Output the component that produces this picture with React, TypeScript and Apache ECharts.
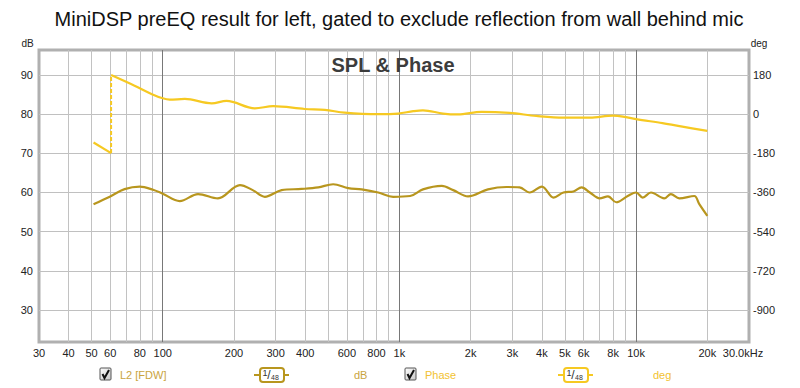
import React, { useEffect, useRef } from 'react';
import * as echarts from 'echarts';

const TITLE = 'MiniDSP preEQ result for left, gated to exclude reflection from wall behind mic';
const SUBTITLE = 'SPL & Phase';

// SPL (L2 [FDW]) in dB
const SPL_FREQ = [51, 60, 69, 80, 91, 100, 118, 141, 171, 212, 240, 270, 318, 386, 454, 525, 608, 693, 814, 941, 1110, 1257, 1510, 1688, 1950, 2366, 2834, 3220, 3550, 4000, 4480, 4934, 5435, 5889, 6380, 7016, 7607, 8243, 9219, 10000, 10660, 11560, 13150, 14030, 15230, 17620, 18500, 20000];
const SPL_DB = [57.0, 59.0, 60.85, 61.5, 60.7, 59.7, 57.8, 59.6, 58.5, 61.9, 60.6, 58.9, 60.6, 60.9, 61.3, 62.1, 61.1, 60.8, 60.0, 58.9, 59.1, 60.8, 61.7, 60.6, 59.0, 60.8, 61.4, 61.3, 60.0, 61.5, 58.7, 60.0, 60.25, 61.3, 60.0, 58.5, 59.0, 57.5, 59.1, 60.0, 58.7, 60.0, 58.5, 59.6, 58.5, 59.1, 57.0, 54.0];

// Phase in degrees, before and after the wrap near 60 Hz
const PHASE_FREQ_A = [51, 60.5];
const PHASE_DEG_A = [-130, -179];
const PHASE_FREQ_B = [60.5, 76, 90, 100, 107, 124, 161, 186, 245, 293, 398, 484, 587, 814, 987, 1144, 1257, 1528, 1765, 2224, 2920, 3789, 4934, 6380, 7980, 8800, 10000, 12930, 15690, 20000];
const PHASE_DEG_B = [180, 131, 92, 73, 67, 70, 50, 61, 27, 37, 24, 20, 7, 0, 3, 14, 18, 3, -1, 11, 6, -8, -16, -16, -7, -11, -23, -41, -57, -77];

// Axis ticks
const X_GRID_TICKS = [40, 50, 60, 70, 80, 90, 100, 200, 300, 400, 500, 600, 700, 800, 900, 1000, 2000, 3000, 4000, 5000, 6000, 7000, 8000, 9000, 10000, 20000];
const X_LABELS = [30, 40, 50, 60, 80, 100, 200, 300, 400, 600, 800, 1000, 2000, 3000, 4000, 5000, 6000, 8000, 10000, 20000, 30000];
const DB_TICKS = [30, 40, 50, 60, 70, 80, 90];
const DEG_TICKS = [180, 0, -180, -360, -540, -720, -900];

const DB_MIN = 21.8;
const DB_MAX = 96.4;
const DEG_MIN = (DB_MIN - 80) * 18;
const DEG_MAX = (DB_MAX - 80) * 18;

const SPL_COLOR = '#b8961e';
const PHASE_COLOR = '#f6c922';
const SPL_TEXT = '#c9a43e';
const PHASE_TEXT = '#f2c230';
const FONT = '"Liberation Sans", Arial, sans-serif';

const zip = (a: number[], b: number[]) => a.map((v, i) => [v, b[i]]);

function legendItem(x: number, label: string, color: string, textColor: string, badgeX: number, unit: string, unitX: number) {
  const y = 375;
  return [
    {
      type: 'rect',
      shape: { x: x, y: y - 7, width: 11, height: 12, r: 1 },
      style: {
        fill: new echarts.graphic.LinearGradient(0, 0, 1, 1, [
          { offset: 0, color: '#ffffff' },
          { offset: 1, color: '#c8c8c8' },
        ]),
        stroke: '#555',
        lineWidth: 1,
      },
    },
    {
      type: 'polyline',
      shape: { points: [[x + 2.5, y - 1], [x + 4.5, y + 3], [x + 9, y - 5]] },
      style: { stroke: '#111', lineWidth: 2, fill: 'none' },
    },
    {
      type: 'text',
      x: x + 20,
      y: y,
      style: { text: label, font: '11px ' + FONT, fill: textColor, textVerticalAlign: 'middle' },
    },
    {
      type: 'line',
      shape: { x1: badgeX, y1: y, x2: badgeX + 35, y2: y },
      style: { stroke: color, lineWidth: 2 },
    },
    {
      type: 'rect',
      shape: { x: badgeX + 6, y: y - 7, width: 24, height: 14, r: 3 },
      style: { fill: '#fff', stroke: color, lineWidth: 2 },
    },
    {
      type: 'text',
      x: badgeX + 11,
      y: y - 2,
      style: { text: '1', font: '9px ' + FONT, fill: '#333', textAlign: 'center', textVerticalAlign: 'middle' },
    },
    {
      type: 'text',
      x: badgeX + 15,
      y: y,
      style: { text: '/', font: '12px ' + FONT, fill: '#333', textAlign: 'center', textVerticalAlign: 'middle' },
    },
    {
      type: 'text',
      x: badgeX + 21,
      y: y + 2,
      style: { text: '48', font: '7px ' + FONT, fill: '#333', textAlign: 'center', textVerticalAlign: 'middle' },
    },
    {
      type: 'text',
      x: unitX,
      y: y,
      style: { text: unit, font: '11px ' + FONT, fill: textColor, textVerticalAlign: 'middle' },
    },
  ];
}

export default function App() {
  const ref = useRef<HTMLDivElement>(null);

  useEffect(() => {
    if (!ref.current) return;
    const chart = echarts.init(ref.current, null, { renderer: 'svg' });

    const xColors = X_GRID_TICKS.map((v) => (v === 100 || v === 1000 || v === 10000 ? '#787878' : '#c2c2c2'));

    const option: any = {
      animation: false,
      backgroundColor: '#ffffff',
      grid: {
        left: 39,
        right: 51,
        top: 50,
        bottom: 46,
        show: true,
        borderColor: '#b0b0b0',
        borderWidth: 3,
        backgroundColor: '#ffffff',
      },
      xAxis: {
        type: 'log',
        logBase: 10,
        min: 30,
        max: 30000,
        axisLine: { show: false },
        axisTick: { show: false, customValues: X_GRID_TICKS },
        splitLine: { show: true, lineStyle: { color: xColors, width: 1 } },
        minorSplitLine: { show: false },
        axisLabel: {
          customValues: X_LABELS,
          margin: 5,
          fontSize: 11,
          fontFamily: FONT,
          color: '#222',
          formatter: (v: number) => {
            if (v >= 29999) return '{k|30.0kHz}';
            if (v >= 1000) return Math.round(v / 1000) + 'k';
            return String(Math.round(v));
          },
          rich: { k: { fontSize: 11, fontFamily: FONT, color: '#222', padding: [0, 12, 0, 0] } },
        },
      },
      yAxis: [
        {
          type: 'value',
          min: DB_MIN,
          max: DB_MAX,
          axisLine: { show: false },
          axisTick: { show: false, customValues: DB_TICKS },
          splitLine: { show: true, lineStyle: { color: '#c0c0c0', width: 1 } },
          axisLabel: {
            customValues: DB_TICKS,
            margin: 6,
            fontSize: 11,
            fontFamily: FONT,
            color: '#222',
          },
        },
        {
          type: 'value',
          min: DEG_MIN,
          max: DEG_MAX,
          position: 'right',
          axisLine: { show: false },
          axisTick: { show: false, customValues: DEG_TICKS },
          splitLine: { show: false },
          axisLabel: {
            customValues: DEG_TICKS,
            margin: 4,
            fontSize: 11,
            fontFamily: FONT,
            color: '#222',
          },
        },
      ],
      series: [
        {
          name: 'L2 [FDW]',
          type: 'line',
          yAxisIndex: 0,
          data: zip(SPL_FREQ, SPL_DB),
          showSymbol: false,
          smooth: 0.35,
          lineStyle: { color: SPL_COLOR, width: 2.2 },
          itemStyle: { color: SPL_COLOR },
          z: 3,
        },
        {
          name: 'Phase',
          type: 'line',
          yAxisIndex: 1,
          data: zip(PHASE_FREQ_A, PHASE_DEG_A),
          showSymbol: false,
          lineStyle: { color: PHASE_COLOR, width: 2.2 },
          itemStyle: { color: PHASE_COLOR },
          z: 3,
        },
        {
          name: 'Phase wrap',
          type: 'line',
          yAxisIndex: 1,
          data: [
            [PHASE_FREQ_A[PHASE_FREQ_A.length - 1], PHASE_DEG_A[PHASE_DEG_A.length - 1]],
            [PHASE_FREQ_B[0], PHASE_DEG_B[0]],
          ],
          showSymbol: false,
          lineStyle: { color: PHASE_COLOR, width: 2, type: [4, 2] },
          itemStyle: { color: PHASE_COLOR },
          z: 3,
        },
        {
          name: 'Phase',
          type: 'line',
          yAxisIndex: 1,
          data: zip(PHASE_FREQ_B, PHASE_DEG_B),
          showSymbol: false,
          smooth: 0.35,
          lineStyle: { color: PHASE_COLOR, width: 2.2 },
          itemStyle: { color: PHASE_COLOR },
          z: 3,
        },
      ],
      graphic: [
        {
          type: 'text',
          x: 399,
          y: 19,
          style: { text: TITLE, font: '20px ' + FONT, fill: '#111', textAlign: 'center', textVerticalAlign: 'middle' },
        },
        {
          type: 'text',
          x: 393,
          y: 65,
          z: 10,
          style: { text: SUBTITLE, font: 'bold 20px ' + FONT, fill: '#3c3c3c', textAlign: 'center', textVerticalAlign: 'middle' },
        },
        {
          type: 'text',
          x: 27.5,
          y: 43,
          style: { text: 'dB', font: '10px ' + FONT, fill: '#222', textAlign: 'center', textVerticalAlign: 'middle' },
        },
        {
          type: 'text',
          x: 759,
          y: 43,
          style: { text: 'deg', font: '10px ' + FONT, fill: '#222', textAlign: 'center', textVerticalAlign: 'middle' },
        },
        ...legendItem(100, 'L2 [FDW]', SPL_COLOR, SPL_TEXT, 254, 'dB', 354),
        ...legendItem(405, 'Phase', PHASE_COLOR, PHASE_TEXT, 558, 'deg', 653),
      ],
    };

    chart.setOption(option);
    return () => chart.dispose();
  }, []);

  return <div ref={ref} style={{ position: 'fixed', left: 0, top: 0, width: 800, height: 388 }} />;
}
